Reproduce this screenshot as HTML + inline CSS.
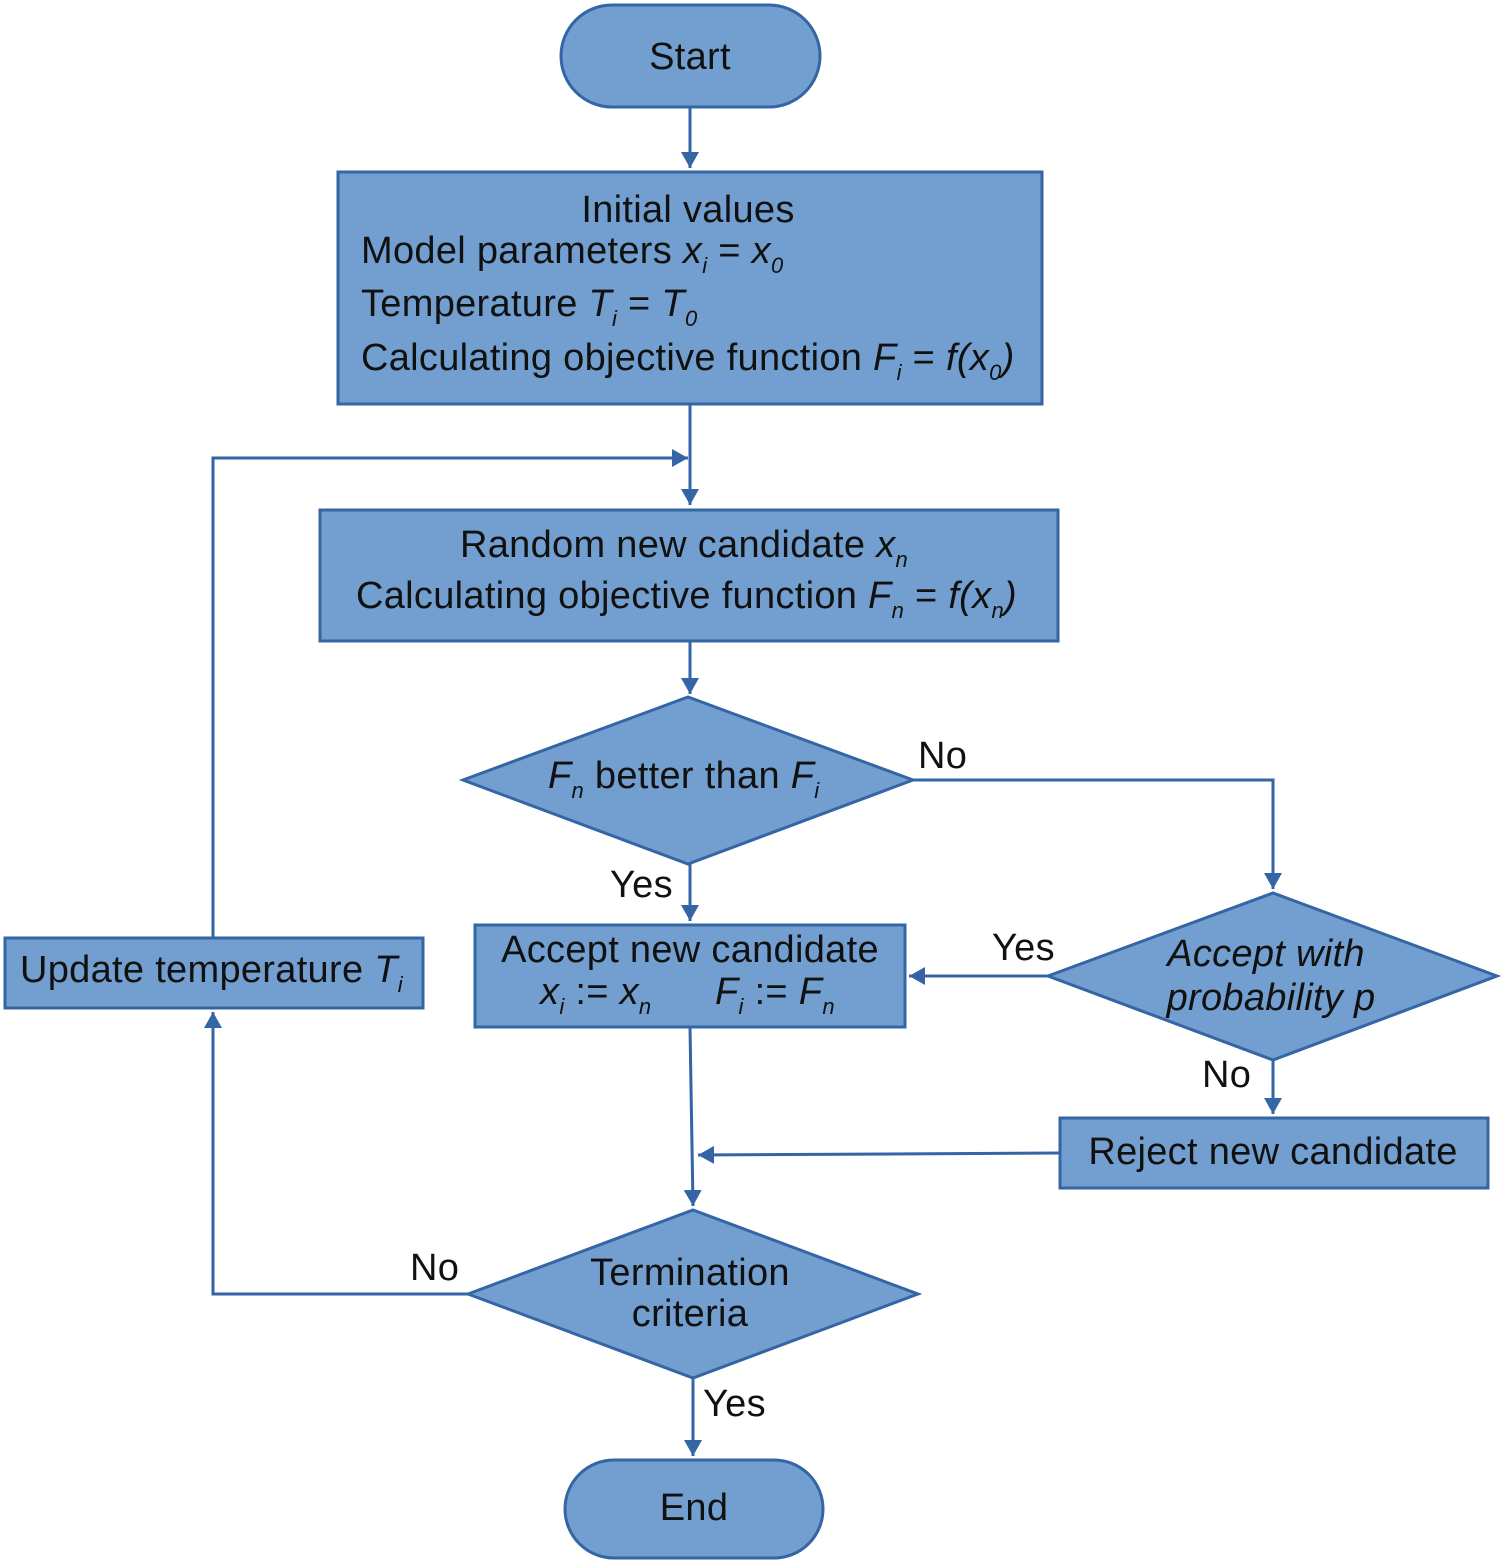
<!DOCTYPE html>
<html><head><meta charset="utf-8"><style>
html,body{margin:0;padding:0;background:#fff}
svg{display:block}
text{font-family:"Liberation Sans",sans-serif;font-size:38px;letter-spacing:0.3px;fill:#111}
.i{font-style:italic}
.s{font-size:22px;font-style:italic}
</style></head><body>
<svg width="1503" height="1564" viewBox="0 0 1503 1564" xmlns="http://www.w3.org/2000/svg">
<defs>
<marker id="b" markerWidth="16" markerHeight="18" refX="16" refY="9" orient="auto" markerUnits="userSpaceOnUse"><path d="M0,0 L16,9 L0,18 z" fill="#3465a4"/></marker></defs>
<g fill="#729fcf" stroke="#3465a4" stroke-width="3">
<rect x="561" y="5" width="259" height="102" rx="51"/>
<rect x="338" y="172" width="704" height="232"/>
<rect x="320" y="510" width="738" height="131"/>
<polygon points="463,780 688,697 913,780 688,864"/>
<rect x="475" y="925" width="430" height="102"/>
<polygon points="1048,976 1273,893 1497,976 1273,1060"/>
<rect x="1060" y="1118" width="428" height="70"/>
<polygon points="468,1294 693,1210 918,1294 693,1378"/>
<rect x="5" y="938" width="418" height="70"/>
<rect x="565" y="1460" width="258" height="98" rx="49"/>
</g>
<g stroke="#3465a4" stroke-width="3" fill="none" marker-end="url(#b)">
<line x1="690" y1="107" x2="690" y2="168"/>
<line x1="690" y1="404" x2="690" y2="505"/>
<polyline points="213,938 213,458 688,458"/>
<line x1="690" y1="641" x2="690" y2="694"/>
<polyline points="913,780 1273,780 1273,889"/>
<line x1="690" y1="864" x2="690" y2="921"/>
<line x1="1048" y1="976" x2="909" y2="976"/>
<line x1="1273" y1="1060" x2="1273" y2="1114"/>
<line x1="1060" y1="1153" x2="698" y2="1155"/>
<line x1="690" y1="1027" x2="693" y2="1206"/>
<polyline points="468,1294 213,1294 213,1012"/>
<line x1="693" y1="1378" x2="693" y2="1456"/>
</g>
<text x="690" y="69" text-anchor="middle">Start</text>
<text x="688" y="222" text-anchor="middle">Initial values</text>
<text x="361" y="263">Model parameters <tspan class="i">x</tspan><tspan class="s" dy="10">i</tspan><tspan dy="-10"> = </tspan><tspan class="i">x</tspan><tspan class="s" dy="10">0</tspan></text>
<text x="361" y="316">Temperature <tspan class="i">T</tspan><tspan class="s" dy="10">i</tspan><tspan dy="-10"> = </tspan><tspan class="i">T</tspan><tspan class="s" dy="10">0</tspan></text>
<text x="361" y="370">Calculating objective function <tspan class="i">F</tspan><tspan class="s" dy="10">i</tspan><tspan dy="-10"> = </tspan><tspan class="i">f(x</tspan><tspan class="s" dy="10">0</tspan><tspan class="i" dy="-10">)</tspan></text>
<text x="460" y="557">Random new candidate <tspan class="i">x</tspan><tspan class="s" dy="10">n</tspan></text>
<text x="356" y="608">Calculating objective function <tspan class="i">F</tspan><tspan class="s" dy="10">n</tspan><tspan dy="-10"> = </tspan><tspan class="i">f(x</tspan><tspan class="s" dy="10">n</tspan><tspan class="i" dy="-10">)</tspan></text>
<text x="548" y="788"><tspan class="i">F</tspan><tspan class="s" dy="10">n</tspan><tspan dy="-10"> better than </tspan><tspan class="i">F</tspan><tspan class="s" dy="10">i</tspan></text>
<text x="918" y="768">No</text>
<text x="610" y="897">Yes</text>
<text x="690" y="962" text-anchor="middle">Accept new candidate</text>
<text x="540" y="1004"><tspan class="i">x</tspan><tspan class="s" dy="10">i</tspan><tspan dy="-10"> := </tspan><tspan class="i">x</tspan><tspan class="s" dy="10">n</tspan><tspan dy="-10" x="715" class="i">F</tspan><tspan class="s" dy="10">i</tspan><tspan dy="-10"> := </tspan><tspan class="i">F</tspan><tspan class="s" dy="10">n</tspan></text>
<text x="992" y="960">Yes</text>
<text x="1266" y="966" text-anchor="middle" class="i">Accept with</text>
<text x="1271" y="1010" text-anchor="middle" class="i">probability p</text>
<text x="1202" y="1087">No</text>
<text x="1273" y="1164" text-anchor="middle">Reject new candidate</text>
<text x="20" y="982">Update temperature <tspan class="i">T</tspan><tspan class="s" dy="10">i</tspan></text>
<text x="690" y="1285" text-anchor="middle">Termination</text>
<text x="690" y="1326" text-anchor="middle">criteria</text>
<text x="410" y="1280">No</text>
<text x="703" y="1416">Yes</text>
<text x="694" y="1520" text-anchor="middle">End</text>
</svg>
</body></html>
